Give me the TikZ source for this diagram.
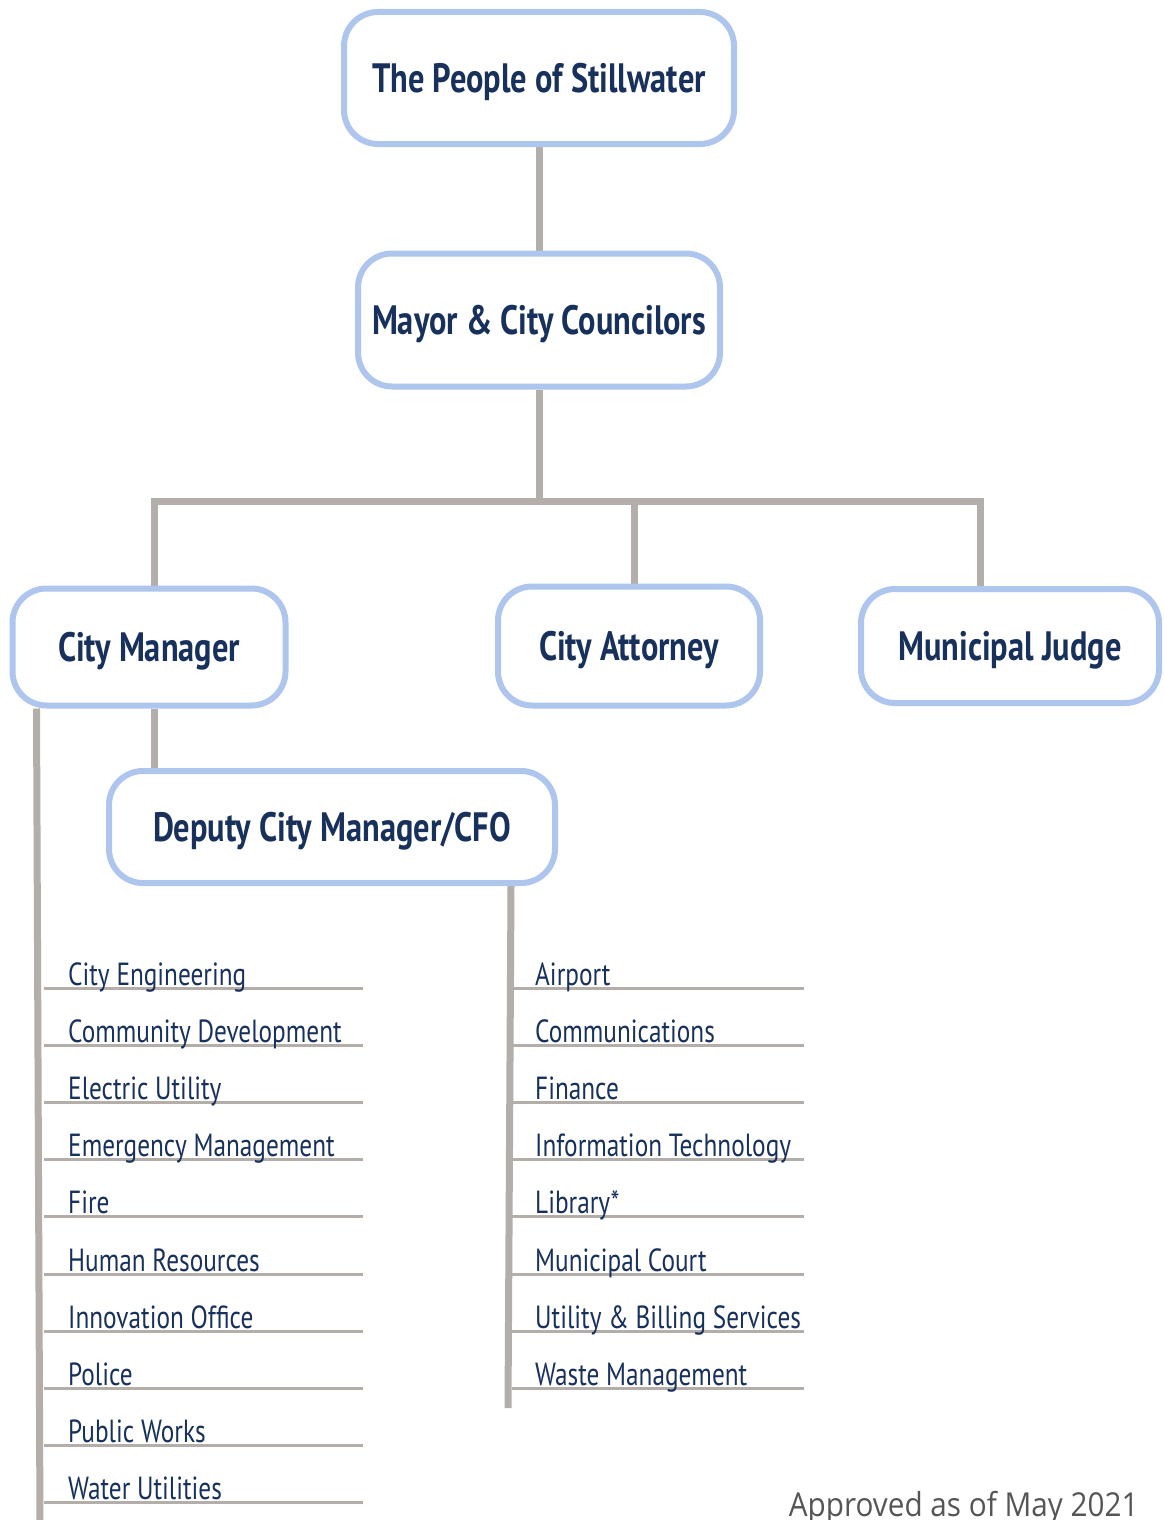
\documentclass[tikz,border=0pt]{standalone}
\usepackage{fontspec}
\setmainfont[FakeStretch=0.79]{PT Sans}
\newfontfamily\notefont[FakeStretch=0.9]{Open Sans}
\usetikzlibrary{positioning, backgrounds}
\definecolor{boxblue}{HTML}{AEC6EE}
\definecolor{navy}{HTML}{17305C}
\definecolor{linegray}{HTML}{B3AEAA}
\definecolor{notegray}{HTML}{555555}

\tikzset{
    office/.style={draw=boxblue, line width=6pt, rounded corners=34pt, fill=white,
        text=navy, font=\fontsize{41}{48}\selectfont\bfseries, inner sep=0pt, text depth=0pt},
    conn/.style={draw=linegray, line width=7pt},
    branch/.style={draw=linegray, line width=3pt},
    dept/.style={anchor=base west, text=navy, font=\fontsize{32}{38}\selectfont, inner sep=0pt}
}

\begin{document}
\begin{tikzpicture}[x=1pt, y=-1pt]
        \useasboundingbox (0,0) rectangle (1164,1520);
        % define offices
        \node[office, minimum width=390pt, minimum height=132pt] (people) at (539,78) {The People of Stillwater};
        \node[office, minimum width=362pt, minimum height=133pt] (mayor) at (539,320) {Mayor \& City Councilors};
        \node[office, minimum width=273pt, minimum height=117pt] (manager) at (149,647) {City Manager};
        \node[office, minimum width=262pt, minimum height=119pt] (attorney) at (629,646) {City Attorney};
        \node[office, minimum width=298pt, minimum height=114pt] (judge) at (1010,646) {Municipal Judge};
        \node[office, minimum width=446pt, minimum height=112pt] (deputy) at (332,827) {Deputy City Manager/CFO};

        % rails and split point
        \coordinate (bus) at (539,501);
        \coordinate (leftend) at (40,1525);
        \coordinate (rightend) at (508,1408);
        \coordinate (leftrail) at (44,0);
        \coordinate (rightrail) at (512,0);

        % departments under the city manager
        \foreach \name [count=\i] in {City Engineering, Community Development, Electric Utility,
                Emergency Management, Fire, Human Resources, Innovation Office, Police,
                Public Works, Water Utilities}
            \node[dept] (left\i) at (68,{985+57.2*(\i-1)}) {\name};
        % departments under the deputy
        \foreach \name [count=\i] in {Airport, Communications, Finance, Information Technology,
                Library*, Municipal Court, Utility \& Billing Services, Waste Management}
            \node[dept] (right\i) at (535,{985+57.2*(\i-1)}) {\name};

        \node[anchor=base east, font=\notefont\fontsize{33}{38}\selectfont, text=notegray] (approved)
            at (1142,1516) {Approved as of May 2021};

        % define connections
        \begin{scope}[on background layer]
            \draw[conn] (people) -- (mayor);
            \draw[conn] (mayor) -- (bus);
            \draw[conn] ([xshift=5pt]manager.north) |- (bus) -| ([xshift=-30pt]judge.north);
            \draw[conn] ([xshift=5pt]attorney.north) -- ([xshift=5pt]attorney.north |- bus);
            \draw[conn] ([xshift=5pt]manager.south) -- ([xshift=5pt]manager.south |- deputy.north);
            \draw[conn] ([xshift=27pt]manager.south west) -- (leftend);
            \draw[conn] ([xshift=-47pt]deputy.south east) -- (rightend);
            \foreach \i in {1,...,10}
                \draw[branch] ([yshift=-3pt]left\i.base west -| leftrail) -- ++(319,0);
            \foreach \i in {1,...,8}
                \draw[branch] ([yshift=-3pt]right\i.base west -| rightrail) -- ++(292,0);
        \end{scope}
    \end{tikzpicture}
\end{document}
